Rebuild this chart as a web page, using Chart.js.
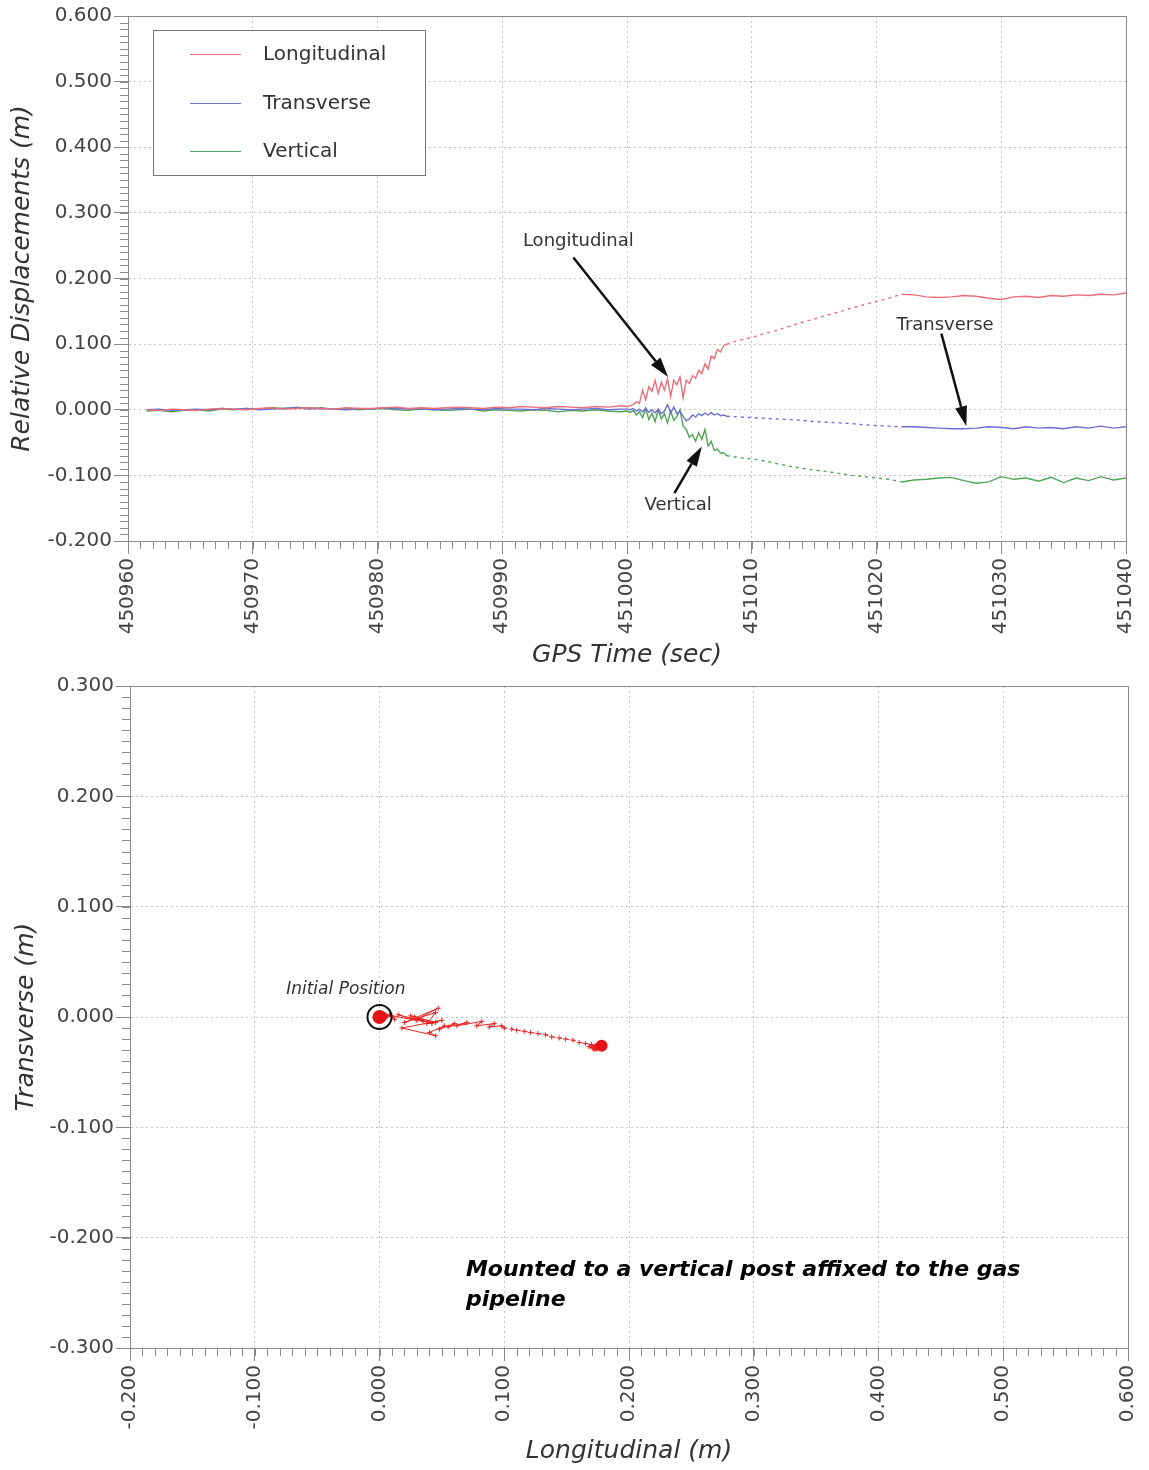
<!DOCTYPE html>
<html>
<head>
<meta charset="utf-8">
<script src="https://cdn.jsdelivr.net/npm/chart.js@4.4.1/dist/chart.umd.min.js"></script>
<style>
  body { margin: 0; background: #fff; }
  #topChart { position: absolute; left: 0; top: 0; }
  #bottomChart { position: absolute; left: 0; top: 670px; }
</style>
</head>
<body>
<canvas id="topChart" width="1149" height="670"></canvas>
<canvas id="bottomChart" width="1149" height="800"></canvas>
<script>
// GPS time stamps (sec)
const gpsTime = [
  450961.5, 450962.5, 450963.5, 450964.5, 450965.5, 450966.5, 450967.5, 450968.5, 450969.5, 450970.5,
  450971.5, 450972.5, 450973.5, 450974.5, 450975.5, 450976.5, 450977.5, 450978.5, 450979.5, 450980.5,
  450981.5, 450982.5, 450983.5, 450984.5, 450985.5, 450986.5, 450987.5, 450988.5, 450989.5, 450990.5,
  450991.5, 450992.5, 450993.5, 450994.5, 450995.5, 450996.5, 450997.5, 450998.5, 450999.5,
  451000, 451000.25, 451000.5, 451000.75, 451001, 451001.25, 451001.5, 451001.75,
  451002, 451002.25, 451002.5, 451002.75, 451003, 451003.25, 451003.5, 451003.75,
  451004, 451004.25, 451004.5, 451004.75, 451005, 451005.25, 451005.5, 451005.75,
  451006, 451006.25, 451006.5, 451006.75, 451007, 451007.25, 451007.5, 451007.75, 451008,
  451009, 451010, 451011, 451012, 451013, 451014, 451015, 451016, 451017, 451018,
  451019, 451020, 451021, 451022, 451023, 451024, 451025, 451026, 451027, 451028,
  451029, 451030, 451031, 451032, 451033, 451034, 451035, 451036, 451037, 451038,
  451039, 451040
];

// relative displacements (m)
const longitudinal = [
  0.000, -0.001, 0.001, 0.000, -0.001, 0.001, 0.002, 0.001, 0.000, 0.002,
  0.003, 0.001, 0.002, 0.003, 0.002, 0.001, 0.003, 0.002, 0.002, 0.003,
  0.004, 0.002, 0.003, 0.002, 0.003, 0.004, 0.003, 0.002, 0.004, 0.003,
  0.005, 0.004, 0.003, 0.005, 0.004, 0.003, 0.005, 0.004, 0.006,
  0.005, 0.006, 0.008, 0.012, 0.010, 0.030, 0.015, 0.035,
  0.028, 0.045, 0.025, 0.042, 0.030, 0.047, 0.020, 0.045,
  0.038, 0.050, 0.018, 0.045, 0.040, 0.052, 0.048, 0.060,
  0.055, 0.070, 0.062, 0.082, 0.078, 0.092, 0.088, 0.098, 0.100,
  0.106, 0.110, 0.116, 0.121, 0.127, 0.133, 0.138, 0.144, 0.149, 0.155,
  0.160, 0.165, 0.170, 0.176, 0.175, 0.172, 0.171, 0.172, 0.174, 0.173,
  0.170, 0.168, 0.172, 0.173, 0.171, 0.174, 0.173, 0.175, 0.174, 0.176,
  0.175, 0.178
];
const transverse = [
  0.000, 0.001, -0.001, 0.000, 0.001, 0.000, 0.002, 0.001, 0.002, 0.000,
  0.001, 0.002, 0.003, 0.001, 0.002, 0.001, 0.000, 0.002, 0.001, 0.003,
  0.002, 0.001, 0.002, 0.000, 0.001, 0.002, 0.001, 0.000, 0.002, 0.001,
  0.001, 0.000, 0.002, 0.001, 0.000, 0.001, 0.002, 0.000, 0.001,
  0.001, 0.000, 0.002, -0.002, 0.001, -0.003, 0.002, -0.004,
  0.000, -0.005, 0.001, -0.006, -0.002, 0.008, -0.005, 0.004,
  -0.006, -0.003, -0.010, -0.017, -0.014, -0.008, -0.011, -0.006,
  -0.009, -0.005, -0.008, -0.004, -0.008, -0.006, -0.009, -0.008, -0.010,
  -0.011, -0.012, -0.013, -0.014, -0.015, -0.016, -0.018, -0.019, -0.020, -0.021,
  -0.023, -0.024, -0.025, -0.026, -0.026, -0.027, -0.028, -0.029, -0.029, -0.028,
  -0.026, -0.027, -0.029, -0.026, -0.028, -0.027, -0.029, -0.026, -0.028, -0.025,
  -0.028, -0.026
];
const vertical = [
  -0.002, -0.001, -0.003, -0.001, 0.000, -0.002, 0.001, 0.000, 0.002, 0.001,
  0.003, 0.002, 0.004, 0.002, 0.003, 0.001, 0.002, 0.000, 0.001, 0.002,
  0.000, -0.001, 0.001, 0.000, -0.001, 0.000, 0.001, -0.002, 0.000, -0.001,
  -0.002, 0.000, -0.001, -0.003, -0.001, -0.002, 0.000, -0.002, -0.003,
  -0.002, -0.004, -0.001, -0.008, -0.003, -0.012, 0.002, -0.015,
  -0.005, -0.018, 0.000, -0.014, -0.006, -0.020, -0.002, -0.016,
  -0.010, 0.000, -0.025, -0.030, -0.042, -0.038, -0.048, -0.035,
  -0.045, -0.030, -0.055, -0.048, -0.062, -0.060, -0.066, -0.066, -0.070,
  -0.073, -0.075, -0.078, -0.082, -0.086, -0.089, -0.092, -0.094, -0.097, -0.100,
  -0.102, -0.104, -0.106, -0.110, -0.107, -0.106, -0.104, -0.103, -0.108, -0.112,
  -0.110, -0.102, -0.106, -0.104, -0.109, -0.103, -0.111, -0.104, -0.108, -0.102,
  -0.107, -0.104
];

// sparse-data stretch drawn dashed
const sparseFrom = 451008;
const sparseTo = 451022;

// callouts on the time-history plot (data coords)
const callouts = [
  { text: 'Longitudinal', label: [450996.1, 0.256], tail: [450995.7, 0.232], head: [451003.3, 0.050] },
  { text: 'Transverse', label: [451025.5, 0.128], tail: [451025.2, 0.116], head: [451027.2, -0.025] },
  { text: 'Vertical', label: [451004.1, -0.146], tail: [451003.8, -0.127], head: [451006.0, -0.056] }
];

const FONT = "'DejaVu Sans', sans-serif";
Chart.defaults.font.family = FONT;
Chart.defaults.color = '#444';

const isSparse = (i0, i1) => gpsTime[i0] >= sparseFrom && gpsTime[i1] <= sparseTo;
const fmt3 = v => (Math.abs(v) < 1e-9 ? 0 : v).toFixed(3);

// frame + minor tick marks
const frameTicks = {
  id: 'frameTicks',
  afterDraw(chart, args, opts) {
    const { ctx, chartArea: a } = chart;
    const xs = chart.scales.x, ys = chart.scales.y;
    ctx.save();
    ctx.strokeStyle = '#8a8a8a';
    ctx.lineWidth = 1;
    ctx.strokeRect(Math.round(a.left) + 0.5, Math.round(a.top) + 0.5, Math.round(a.right - a.left), Math.round(a.bottom - a.top));
    ctx.beginPath();
    const nx = Math.round((xs.max - xs.min) / opts.x);
    for (let k = 0; k <= nx; k++) {
      const px = Math.round(xs.getPixelForValue(xs.min + k * opts.x)) + 0.5;
      ctx.moveTo(px, a.bottom);
      ctx.lineTo(px, a.bottom + 8);
    }
    const ny = Math.round((ys.max - ys.min) / opts.y);
    for (let k = 0; k <= ny; k++) {
      const py = Math.round(ys.getPixelForValue(ys.min + k * opts.y)) + 0.5;
      ctx.moveTo(a.left, py);
      ctx.lineTo(a.left - 8, py);
    }
    ctx.stroke();
    ctx.restore();
  }
};

// legend box inside the plot
const boxLegend = {
  id: 'boxLegend',
  afterDraw(chart) {
    const { ctx, chartArea: a } = chart;
    const x0 = a.left + 25, y0 = a.top + 14;
    ctx.save();
    ctx.fillStyle = '#fff';
    ctx.fillRect(x0, y0, 272, 145);
    ctx.strokeStyle = '#777';
    ctx.lineWidth = 1;
    ctx.strokeRect(x0 + 0.5, y0 + 0.5, 272, 145);
    ctx.font = '20px ' + FONT;
    ctx.textBaseline = 'middle';
    chart.data.datasets.forEach((ds, i) => {
      const y = Math.round(y0 + 24 + i * 48.5) + 0.5;
      ctx.strokeStyle = ds.borderColor;
      ctx.lineWidth = 1.2;
      ctx.beginPath();
      ctx.moveTo(x0 + 37, y);
      ctx.lineTo(x0 + 88, y);
      ctx.stroke();
      ctx.fillStyle = '#333';
      ctx.fillText(ds.label, x0 + 110, y);
    });
    ctx.restore();
  }
};

// arrows + labels
const arrowNotes = {
  id: 'arrowNotes',
  afterDraw(chart) {
    const { ctx } = chart;
    const xs = chart.scales.x, ys = chart.scales.y;
    const P = p => [xs.getPixelForValue(p[0]), ys.getPixelForValue(p[1])];
    ctx.save();
    ctx.font = '18px ' + FONT;
    ctx.textAlign = 'center';
    ctx.textBaseline = 'middle';
    callouts.forEach(c => {
      const [lx, ly] = P(c.label);
      const [tx, ty] = P(c.tail);
      const [hx, hy] = P(c.head);
      ctx.fillStyle = '#333';
      ctx.fillText(c.text, lx, ly);
      const ang = Math.atan2(hy - ty, hx - tx);
      const len = 20, half = 6;
      const bx = hx - len * Math.cos(ang), by = hy - len * Math.sin(ang);
      ctx.strokeStyle = '#111';
      ctx.lineWidth = 2.5;
      ctx.beginPath();
      ctx.moveTo(tx, ty);
      ctx.lineTo(bx, by);
      ctx.stroke();
      ctx.fillStyle = '#111';
      ctx.beginPath();
      ctx.moveTo(hx, hy);
      ctx.lineTo(bx + half * Math.sin(ang), by - half * Math.cos(ang));
      ctx.lineTo(bx - half * Math.sin(ang), by + half * Math.cos(ang));
      ctx.closePath();
      ctx.fill();
    });
    ctx.restore();
  }
};

function axisX(min, max, step, fmt, title, titlePad, height) {
  return {
    type: 'linear', min: min, max: max,
    ticks: { stepSize: step, autoSkip: false, minRotation: 90, maxRotation: 90, padding: 4, font: { size: 20 }, color: '#444', callback: fmt },
    grid: { color: '#c4c4c4', tickColor: '#8a8a8a', tickLength: 13 },
    border: { color: '#8a8a8a', dash: [2, 3] },
    title: { display: true, text: title, color: '#333', font: { size: 25, style: 'italic' }, padding: { top: 0, bottom: titlePad } },
    afterFit: s => { s.height = height; s.paddingLeft = 0; s.paddingRight = 0; }
  };
}
function axisY(min, max, step, title, titlePad, width) {
  return {
    type: 'linear', min: min, max: max,
    ticks: { stepSize: step, padding: 2, font: { size: 20 }, color: '#444', callback: fmt3 },
    grid: { color: '#c4c4c4', tickColor: '#8a8a8a', tickLength: 14 },
    border: { color: '#8a8a8a', dash: [2, 3] },
    title: { display: true, text: title, color: '#333', font: { size: 25, style: 'italic' }, padding: { top: titlePad, bottom: 0 } },
    afterFit: s => { s.width = width; s.paddingTop = 0; s.paddingBottom = 0; }
  };
}

function series(label, values, color) {
  return {
    label: label,
    data: gpsTime.map((t, i) => ({ x: t, y: values[i] })),
    borderColor: color,
    borderWidth: 1.4,
    pointRadius: 0,
    tension: 0,
    segment: { borderDash: c => isSparse(c.p0DataIndex, c.p1DataIndex) ? [3, 4] : undefined }
  };
}

new Chart(document.getElementById('topChart'), {
  type: 'line',
  data: {
    datasets: [
      series('Longitudinal', longitudinal, 'rgb(236,110,120)'),
      series('Transverse', transverse, 'rgb(110,110,215)'),
      series('Vertical', vertical, 'rgb(80,165,90)')
    ]
  },
  options: {
    responsive: false,
    animation: false,
    events: [],
    layout: { padding: { left: 0, right: 23, top: 16, bottom: 0 } },
    scales: {
      x: axisX(450960, 451040, 10, v => String(v), 'GPS Time (sec)', 0, 129),
      y: axisY(-0.2, 0.6, 0.1, 'Relative Displacements (m)', 7, 128)
    },
    plugins: {
      legend: { display: false },
      tooltip: { enabled: false },
      frameTicks: { x: 1, y: 0.01 }
    }
  },
  plugins: [frameTicks, boxLegend, arrowNotes]
});

// plan view: longitudinal vs transverse
const pathPoints = gpsTime.map((t, i) => ({ x: longitudinal[i], y: transverse[i] }));
const firstPoint = pathPoints[0];
const lastPoint = pathPoints[pathPoints.length - 1];

const planNotes = {
  id: 'planNotes',
  afterDraw(chart) {
    const { ctx } = chart;
    const xs = chart.scales.x, ys = chart.scales.y;
    ctx.save();
    ctx.fillStyle = '#333';
    ctx.textBaseline = 'middle';
    ctx.textAlign = 'center';
    ctx.font = 'italic 17px ' + FONT;
    ctx.fillText('Initial Position', xs.getPixelForValue(-0.027), ys.getPixelForValue(0.0245));
    ctx.textAlign = 'left';
    ctx.fillStyle = '#000';
    ctx.font = 'italic bold 22px ' + FONT;
    const nx = xs.getPixelForValue(0.0693), ny = ys.getPixelForValue(-0.2294);
    ctx.fillText('Mounted to a vertical post affixed to the gas', nx, ny);
    ctx.fillText('pipeline', nx, ny + 30);
    ctx.restore();
  }
};

new Chart(document.getElementById('bottomChart'), {
  type: 'line',
  data: {
    datasets: [
      {
        label: 'ring', data: [firstPoint], order: 0,
        showLine: false, pointRadius: 12, pointBorderWidth: 2,
        pointBorderColor: '#111', pointBackgroundColor: 'rgba(0,0,0,0)'
      },
      {
        label: 'start', data: [firstPoint], order: 1,
        showLine: false, pointRadius: 7, pointBorderWidth: 0,
        pointBackgroundColor: 'rgb(230,20,20)'
      },
      {
        label: 'end', data: [lastPoint], order: 1,
        showLine: false, pointRadius: 6, pointBorderWidth: 0,
        pointBackgroundColor: 'rgb(230,20,20)'
      },
      {
        label: 'path', data: pathPoints, order: 2,
        borderColor: 'rgb(232,35,35)', borderWidth: 1,
        pointStyle: 'cross', pointRadius: 2.5, pointBorderWidth: 1,
        pointBorderColor: 'rgb(232,35,35)', tension: 0,
        segment: { borderDash: c => isSparse(c.p0DataIndex, c.p1DataIndex) ? [3, 4] : undefined }
      }
    ]
  },
  options: {
    responsive: false,
    animation: false,
    events: [],
    layout: { padding: { left: 0, right: 21, top: 16, bottom: 0 } },
    scales: {
      x: axisX(-0.2, 0.6, 0.1, fmt3, 'Longitudinal (m)', 4, 122),
      y: axisY(-0.3, 0.3, 0.1, 'Transverse (m)', 11, 130)
    },
    plugins: {
      legend: { display: false },
      tooltip: { enabled: false },
      frameTicks: { x: 0.01, y: 0.01 }
    }
  },
  plugins: [frameTicks, planNotes]
});
</script>
</body>
</html>
